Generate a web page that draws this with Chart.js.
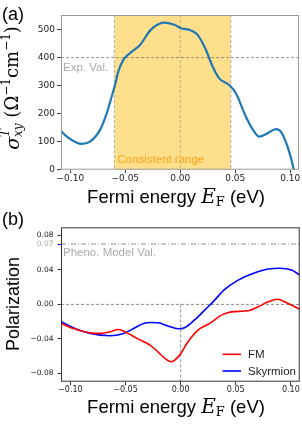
<!DOCTYPE html>
<html>
<head>
<meta charset="utf-8">
<script src="https://cdn.jsdelivr.net/npm/chart.js@4/dist/chart.umd.min.js"></script>
<style>
  body { margin: 0; background: #fff; }
  #wrap { position: relative; width: 302px; height: 425px; }
  canvas { position: absolute; left: 0; }
</style>
</head>
<body>
<div id="wrap">
  <canvas id="chartA" width="302" height="215" style="top:0"></canvas>
  <canvas id="chartB" width="302" height="225" style="top:200px"></canvas>
</div>
<script>
// panel (a): transverse conductivity vs Fermi energy
var energyA = [-0.1085, -0.1032, -0.094, -0.090, -0.0821, -0.073, -0.0669, -0.0624, -0.0594, -0.0564, -0.0518, -0.0457, -0.0366, -0.0269, -0.0148, -0.0054, 0.0006, 0.0097, 0.0158, 0.0234, 0.0294, 0.0354, 0.0445, 0.0506, 0.0597, 0.0672, 0.0718, 0.0794, 0.087, 0.0915, 0.0976, 0.103, 0.106];
var sigmaA = [138, 118, 96, 92, 100, 142, 201, 261, 302, 350, 392, 416, 445, 499, 525, 517, 505, 497, 481, 427, 368, 326, 302, 273, 189, 136, 118, 130, 145, 136, 82, 5, -60];
var expValue = 400;
var consistentRange = [-0.06, 0.046];

// panel (b): polarization
var energyFM = [-0.1085, -0.0973, -0.082, -0.0715, -0.064, -0.0564, -0.0487, -0.0396, -0.0269, -0.0206, -0.013, -0.0085, -0.0009, 0.0067, 0.0158, 0.0264, 0.037, 0.046, 0.0613, 0.0703, 0.0794, 0.0879, 0.096, 0.108];
var polFM = [-0.022, -0.028, -0.033, -0.0336, -0.0317, -0.029, -0.033, -0.0394, -0.048, -0.055, -0.0638, -0.0665, -0.0588, -0.0433, -0.0298, -0.022, -0.0124, -0.0086, -0.0074, -0.0028, 0.003, 0.006, 0.002, -0.0055];
var energySky = [-0.1085, -0.0973, -0.082, -0.064, -0.0518, -0.0427, -0.0336, -0.0269, -0.0206, -0.0115, -0.0024, 0.0036, 0.0127, 0.0218, 0.0294, 0.04, 0.0522, 0.0673, 0.0794, 0.09, 0.1006, 0.108];
var polSky = [-0.020, -0.027, -0.0336, -0.0364, -0.0336, -0.028, -0.022, -0.021, -0.0213, -0.025, -0.0283, -0.027, -0.018, -0.0066, 0.003, 0.0174, 0.0282, 0.0367, 0.041, 0.042, 0.0398, 0.034];
var phenoValue = 0.07;

var xTicks = [-0.10, -0.05, 0.00, 0.05, 0.10];
var yTicksA = [0, 100, 200, 300, 400, 500];
var yTicksB = [-0.08, -0.04, 0.00, 0.04, 0.07, 0.08];

var SANS = '"Liberation Sans", Arial, sans-serif';
var SERIF = '"DejaVu Serif", "Liberation Serif", serif';
var TICKFONT = '"DejaVu Sans", sans-serif';

function toPoints(xs, ys) {
  return xs.map(function (x, i) { return { x: x, y: ys[i] }; });
}

function fmt(v) {
  var s = Math.abs(v).toFixed(2);
  return (v < -1e-9 ? '\u2212' : '') + s;
}

// draw a line of text made of runs with different fonts, optionally rotated
function drawRuns(ctx, runs, cx, cy, rotate) {
  ctx.save();
  ctx.translate(cx, cy);
  if (rotate) ctx.rotate(-Math.PI / 2);
  var total = 0;
  runs.forEach(function (r) {
    ctx.font = r.font;
    r.w = ctx.measureText(r.text).width;
    if (!r.noAdvance) total += r.w;
  });
  var x = -total / 2;
  ctx.textBaseline = 'middle';
  ctx.textAlign = 'left';
  ctx.fillStyle = '#000';
  runs.forEach(function (r) {
    ctx.font = r.font;
    ctx.fillText(r.text, x, r.dy || 0);
    if (!r.noAdvance) x += r.w;
  });
  ctx.restore();
}

function xTitleRuns() {
  return [
    { text: 'Fermi energy ', font: '18.5px ' + SANS },
    { text: 'E', font: 'italic 20px ' + SERIF, dy: 0 },
    { text: 'F', font: '13px ' + SERIF, dy: 5 },
    { text: ' (eV)', font: '18.5px ' + SANS }
  ];
}

var framePlugin = {
  id: 'frame',
  afterDatasetsDraw: function (chart, args, opts) {
    var a = chart.chartArea, ctx = chart.ctx;
    ctx.save();
    ctx.strokeStyle = opts.color;
    ctx.lineWidth = 1;
    ctx.strokeRect(a.left + 0.5, a.top + 0.5, a.right - a.left - 1, a.bottom - a.top - 1);
    ctx.restore();
  }
};

function dashed(ctx, x1, y1, x2, y2, color, dash) {
  ctx.save();
  ctx.strokeStyle = color;
  ctx.lineWidth = 0.9;
  ctx.setLineDash(dash);
  ctx.beginPath();
  ctx.moveTo(x1, y1);
  ctx.lineTo(x2, y2);
  ctx.stroke();
  ctx.restore();
}

var decorA = {
  id: 'decorA',
  beforeDatasetsDraw: function (chart) {
    var a = chart.chartArea, ctx = chart.ctx;
    var xs = chart.scales.x, ys = chart.scales.y;
    var x0 = xs.getPixelForValue(consistentRange[0]);
    var x1 = xs.getPixelForValue(consistentRange[1]);
    ctx.save();
    ctx.fillStyle = '#FEDF8C';
    ctx.fillRect(x0, a.top, x1 - x0, a.bottom - a.top);
    ctx.restore();
    dashed(ctx, x0, a.top, x0, a.bottom, 'rgba(150,150,150,0.8)', [3, 2]);
    dashed(ctx, x1, a.top, x1, a.bottom, 'rgba(150,150,150,0.8)', [3, 2]);
    var xz = xs.getPixelForValue(0);
    dashed(ctx, xz, a.top, xz, a.bottom, 'rgba(140,140,140,0.6)', [3, 2]);
    var y4 = ys.getPixelForValue(expValue);
    dashed(ctx, a.left, y4, a.right, y4, 'rgba(110,110,110,0.8)', [3, 2]);
    ctx.save();
    ctx.font = '11.5px ' + SANS;
    ctx.textBaseline = 'middle';
    ctx.fillStyle = '#aaaaaa';
    ctx.fillText('Exp. Val.', a.left + 2, y4 + 10);
    ctx.fillStyle = '#FFA31A';
    ctx.fillText('Consistent range', x0 + 3, a.bottom - 10);
    ctx.restore();
  },
  afterDraw: function (chart) {
    var ctx = chart.ctx;
    ctx.save();
    ctx.font = '18px ' + SANS;
    ctx.textBaseline = 'middle';
    ctx.fillStyle = '#000';
    ctx.fillText('(a)', 2, 15);
    ctx.restore();
    drawRuns(ctx, [
      { text: '\u03c3', font: 'italic 19px ' + SERIF, dy: 1 },
      { text: 'T', font: 'italic 12px ' + SERIF, dy: -7, noAdvance: true },
      { text: 'xy', font: 'italic 12px ' + SERIF, dy: 6 },
      { text: ' (\u03a9', font: '18px ' + SERIF },
      { text: '\u22121', font: '12px ' + SERIF, dy: -6 },
      { text: 'cm', font: '18px ' + SERIF },
      { text: '\u22121', font: '12px ' + SERIF, dy: -6 },
      { text: ')', font: '18px ' + SERIF }
    ], 13, 88, true);
    drawRuns(ctx, xTitleRuns(), 176, 198, false);
  }
};

var decorB = {
  id: 'decorB',
  beforeDatasetsDraw: function (chart) {
    var a = chart.chartArea, ctx = chart.ctx;
    var xs = chart.scales.x, ys = chart.scales.y;
    var y0 = ys.getPixelForValue(0);
    dashed(ctx, a.left, y0, a.right, y0, 'rgba(100,100,100,0.8)', [3, 2]);
    var xz = xs.getPixelForValue(0);
    dashed(ctx, xz, y0, xz, a.bottom, 'rgba(100,100,100,0.8)', [3, 2]);
    var yp = ys.getPixelForValue(phenoValue);
    dashed(ctx, a.left, yp, a.right, yp, 'rgba(100,100,100,0.8)', [5, 2, 1, 2]);
    ctx.save();
    ctx.font = '11.5px ' + SANS;
    ctx.textBaseline = 'middle';
    ctx.fillStyle = '#aaaaaa';
    ctx.fillText('Pheno. Model Val.', a.left + 2, yp + 9);
    ctx.restore();
  },
  afterDraw: function (chart) {
    var ctx = chart.ctx, a = chart.chartArea;
    ctx.save();
    ctx.font = '18px ' + SANS;
    ctx.textBaseline = 'middle';
    ctx.fillStyle = '#000';
    ctx.fillText('(b)', 2, 20);
    ctx.restore();
    drawRuns(ctx, [{ text: 'Polarization', font: '18px ' + SANS }], 14, 104, true);
    drawRuns(ctx, xTitleRuns(), 176, 208, false);
    // legend
    ctx.save();
    ctx.font = '11.5px ' + SANS;
    ctx.textBaseline = 'middle';
    chart.data.datasets.forEach(function (ds, i) {
      var y = 154.3 + i * 16.7;
      ctx.strokeStyle = ds.borderColor;
      ctx.lineWidth = 1.6;
      ctx.beginPath();
      ctx.moveTo(222.5, y);
      ctx.lineTo(241, y);
      ctx.stroke();
      ctx.fillStyle = '#222';
      ctx.fillText(ds.label, 248, y + 0.5);
    });
    ctx.restore();
  }
};

function xScale(fontSize, tickColor) {
  return {
    type: 'linear',
    min: -0.1085,
    max: 0.108,
    afterBuildTicks: function (s) { s.ticks = xTicks.map(function (v) { return { value: v }; }); },
    ticks: {
      color: '#222',
      font: { family: TICKFONT, size: fontSize },
      padding: 0,
      maxRotation: 0,
      autoSkip: false,
      callback: function (v) { return fmt(v); }
    },
    grid: { drawOnChartArea: false, drawTicks: true, tickLength: 3.5, color: tickColor },
    border: { display: false }
  };
}

var chartA = new Chart(document.getElementById('chartA'), {
  type: 'line',
  data: {
    datasets: [{
      label: 'sigma',
      data: toPoints(energyA, sigmaA),
      borderColor: '#1f77b4',
      borderWidth: 2.2,
      pointRadius: 0,
      cubicInterpolationMode: 'monotone',
      fill: false
    }]
  },
  options: {
    responsive: false,
    animation: false,
    devicePixelRatio: 1,
    layout: { padding: { top: 15, right: 3, left: 0, bottom: 0 } },
    plugins: { legend: { display: false }, tooltip: { enabled: false }, frame: { color: '#999' } },
    scales: {
      x: Object.assign(xScale(9, '#444'), {
        afterFit: function (s) { s.height = 45.3; }
      }),
      y: {
        type: 'linear',
        min: 0,
        max: 552,
        afterBuildTicks: function (s) { s.ticks = yTicksA.map(function (v) { return { value: v }; }); },
        afterFit: function (s) { s.width = 61; },
        ticks: { color: '#222', font: { family: TICKFONT, size: 9 }, padding: 2 },
        grid: { drawOnChartArea: false, drawTicks: true, tickLength: 4, color: '#444' },
        border: { display: false }
      }
    }
  },
  plugins: [framePlugin, decorA]
});

var chartB = new Chart(document.getElementById('chartB'), {
  type: 'line',
  data: {
    datasets: [{
      label: 'FM',
      data: toPoints(energyFM, polFM),
      borderColor: '#ff0000',
      borderWidth: 1.6,
      pointRadius: 0,
      cubicInterpolationMode: 'monotone',
      fill: false
    }, {
      label: 'Skyrmion',
      data: toPoints(energySky, polSky),
      borderColor: '#0000ff',
      borderWidth: 1.6,
      pointRadius: 0,
      cubicInterpolationMode: 'monotone',
      fill: false
    }]
  },
  options: {
    responsive: false,
    animation: false,
    devicePixelRatio: 1,
    layout: { padding: { top: 27.3, right: 2.3, left: 0, bottom: 0 } },
    plugins: { legend: { display: false }, tooltip: { enabled: false }, frame: { color: '#333' } },
    scales: {
      x: Object.assign(xScale(8, '#333'), {
        afterFit: function (s) { s.height = 43.3; }
      }),
      y: {
        type: 'linear',
        min: -0.0896,
        max: 0.0894,
        afterBuildTicks: function (s) { s.ticks = yTicksB.map(function (v) { return { value: v }; }); },
        afterFit: function (s) { s.width = 61; },
        ticks: {
          color: function (c) { return Math.abs(c.tick.value - phenoValue) < 1e-9 ? '#aaaaaa' : '#222'; },
          font: { family: TICKFONT, size: 7.5 },
          padding: 4,
          callback: function (v) { return fmt(v); }
        },
        grid: {
          drawOnChartArea: false, drawTicks: true, tickLength: 3.5,
          color: function (c) { return c.tick && Math.abs(c.tick.value - phenoValue) < 1e-9 ? '#0000ff' : '#333'; }
        },
        border: { display: false }
      }
    }
  },
  plugins: [framePlugin, decorB]
});
</script>
</body>
</html>
